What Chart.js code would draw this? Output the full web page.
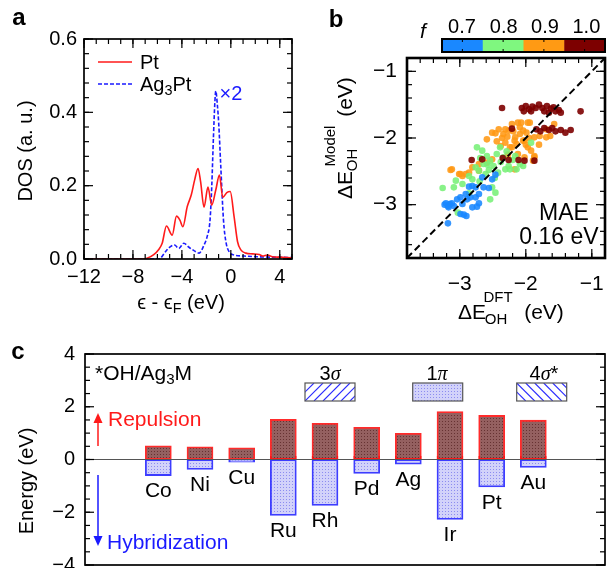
<!DOCTYPE html>
<html><head><meta charset="utf-8">
<script src="https://cdn.jsdelivr.net/npm/chart.js@4.4.1/dist/chart.umd.min.js"></script>
<style>
html,body{margin:0;padding:0;background:#fff;}
#wrap{position:relative;width:609px;height:568px;overflow:hidden;font-family:"Liberation Sans",Arial,sans-serif;color:#000;background:#fff;}
canvas{position:absolute;}
.t{position:absolute;white-space:nowrap;line-height:1;}
.t sub{font-size:72%;vertical-align:-0.28em;line-height:0;}
.t i.s{font-family:"Liberation Serif","DejaVu Serif",serif;}
</style></head><body><div id="wrap">
<canvas id="ca" width="300" height="330" style="left:0;top:0;width:300px;height:330px"></canvas>
<canvas id="cb" width="309" height="330" style="left:300px;top:0;width:309px;height:330px"></canvas>
<canvas id="cc" width="609" height="238" style="left:0;top:330px;width:609px;height:238px"></canvas>
</div>
<script>
// ---------------- Panel a data (DOS) ----------------
const ptEnergy = [-12,-7.2,-6.85,-6.3,-5.89,-5.61,-5.26,-4.79,-4.44,-4.16,-3.92,-3.56,-3.23,-2.96,-2.68,-2.47,-2.19,-1.87,-1.56,-1.23,-0.93,-0.66,-0.33,-0.05,0.27,0.55,0.82,1.23,1.78,2.33,2.6,3.0,3.4,4.0,5.0];
const ptDOS    = [0,0,0.002,0.012,0.026,0.043,0.09,0.065,0.117,0.106,0.088,0.143,0.175,0.215,0.247,0.211,0.141,0.196,0.147,0.188,0.229,0.168,0.181,0.184,0.115,0.047,0.025,0.016,0.014,0.012,0.008,0.011,0.006,0.005,0.003];
const agEnergy = [-12,-5.9,-5.75,-5.34,-4.93,-4.6,-4.25,-3.84,-3.42,-3.01,-2.6,-2.19,-1.92,-1.7,-1.56,-1.42,-1.3,-1.23,-1.1,-0.99,-0.82,-0.6,-0.38,-0.14,0.27,1.1,2.2,3.5,5.0];
const agDOS    = [0,0,0.002,0.02,0.034,0.038,0.029,0.043,0.032,0.023,0.016,0.038,0.063,0.106,0.197,0.333,0.43,0.458,0.42,0.37,0.252,0.106,0.043,0.02,0.011,0.008,0.006,0.005,0.004];
const aXTicks = [-12,-8,-4,0,4];
const aXTickLabels = ['\u221212','\u22128','\u22124','0','4'];
const aYTicks = [0,0.2,0.4,0.6];
const aYTickLabels = ['0.0','0.2','0.4','0.6'];

// ---------------- Panel b data (parity scatter, coloured by f) ----------------
const fLabels = ['0.7','0.8','0.9','1.0'];
const blueDFT  = [-3.21,-3.18,-3.15,-3.23,-3.17,-3.12,-3.09,-3.18,-3.04,-2.99,-2.96,-2.91,-2.86,-2.81,-2.76,-2.89,-2.84,-2.76,-2.71,-2.94,-2.90,-2.99,-2.81,-2.74,-2.71,-2.64,-2.56,-2.66,-2.46,-2.51];
const blueModel= [-2.98,-3.02,-2.99,-3.00,-3.04,-2.98,-3.02,-3.28,-2.92,-2.89,-2.99,-2.84,-2.73,-2.72,-2.74,-2.92,-2.89,-2.89,-2.84,-3.15,-3.17,-3.14,-3.04,-3.03,-2.98,-2.74,-2.75,-2.59,-2.55,-2.62];
const greenDFT  = [-3.26,-3.09,-3.06,-2.96,-3.03,-2.86,-2.76,-2.74,-2.66,-2.64,-2.59,-2.54,-2.49,-2.44,-2.39,-2.34,-2.31,-2.26,-2.16,-2.51,-2.46,-2.54,-2.71,-2.81,-2.61,-2.14,-1.92,-2.04,-2.09,-2.24,-2.86,-2.69,-2.56,-2.47,-2.38,-2.29,-2.20,-2.70,-2.58,-2.42];
const greenModel= [-2.75,-2.74,-2.64,-2.69,-3.12,-2.57,-2.44,-2.14,-2.19,-2.39,-2.27,-2.34,-2.42,-2.24,-2.14,-2.29,-2.47,-2.42,-2.27,-2.74,-2.82,-2.92,-2.49,-2.62,-2.54,-2.47,-2.07,-2.42,-2.39,-2.47,-2.83,-2.30,-2.48,-2.60,-2.36,-2.20,-2.33,-2.65,-2.40,-2.52];
const orangeDFT  = [-3.12,-3.01,-2.96,-2.91,-2.86,-2.81,-2.71,-2.59,-2.51,-2.59,-2.51,-2.41,-2.34,-2.26,-2.21,-2.12,-2.09,-2.16,-2.31,-2.24,-2.14,-2.04,-2.02,-2.07,-1.94,-1.57,-1.63,-1.69,-2.17,-2.04,-1.97,-1.92,-1.87,-1.89,-2.02,-2.12,-2.21,-2.09,-1.99,-1.87,-1.79,-2.46,-2.31,-1.97,-1.69,-1.87,-3.14,-2.99,-2.71,-2.17,-2.44,-2.36,-2.28,-2.19,-2.00,-1.95,-2.38,-2.27,-1.80];
const orangeModel= [-2.47,-2.54,-2.57,-2.54,-2.52,-2.44,-2.39,-2.37,-2.32,-2.02,-1.92,-1.87,-1.94,-1.89,-1.79,-1.77,-1.84,-1.99,-2.07,-2.14,-2.09,-1.89,-2.04,-1.77,-1.77,-1.79,-1.97,-1.87,-2.04,-2.04,-2.14,-2.19,-2.27,-2.34,-2.29,-2.24,-2.14,-1.94,-1.92,-1.99,-1.97,-1.93,-1.87,-1.77,-1.99,-2.29,-2.48,-2.54,-2.49,-2.47,-2.05,-2.00,-1.98,-1.90,-2.10,-2.00,-2.12,-2.25,-2.10];
const redDFT  = [-2.06,-2.00,-1.95,-1.90,-1.85,-1.80,-1.75,-1.72,-1.68,-1.62,-1.58,-1.55,-1.50,-1.47,-1.65,-1.92,-2.03,-2.36,-1.17,-1.84,-1.78,-1.72,-1.65,-1.60,-1.55,-1.47,-1.40,-1.32,-2.21,-2.82,-2.66,-2.26,-2.11,-2.02,-1.87,-2.35];
const redModel= [-1.55,-1.52,-1.57,-1.53,-1.55,-1.50,-1.55,-1.60,-1.52,-1.56,-1.54,-1.60,-1.58,-1.62,-1.62,-1.60,-1.60,-1.55,-1.60,-1.87,-1.90,-1.85,-1.88,-1.85,-1.90,-1.88,-1.92,-1.88,-1.86,-2.33,-2.32,-2.33,-2.33,-2.34,-2.34,-2.30];
const bTicks = [-3,-2,-1];
const bTickLabels = ['\u22123','\u22122','\u22121'];

// ---------------- Panel c data (energy decomposition) ----------------
const metals = ['Co','Ni','Cu','Ru','Rh','Pd','Ag','Ir','Pt','Au'];
const repulsion     = [0.52,0.48,0.44,1.52,1.37,1.22,0.99,1.82,1.67,1.49];
const hybridization = [-0.61,-0.38,-0.10,-2.12,-1.74,-0.53,-0.18,-2.27,-1.04,-0.30];
const repulsionSigma= [0,0,0,0.12,0.12,0.12,0.12,0.12,0.12,0.12];
const orbitalLabels = ['3<i class="s">\u03c3</i>','1<i class="s">\u03c0</i>','4<i class="s">\u03c3</i>*'];
const cTicks = [-4,-2,0,2,4];
const cTickLabels = ['\u22124','\u22122','0','2','4'];

// ---------------- helpers ----------------
const FONT = '"Liberation Sans", Arial, sans-serif';
Chart.defaults.font.family = FONT;
Chart.defaults.font.size = 20;
Chart.defaults.color = '#000';
const wrap = document.getElementById('wrap');
function txt(html, x, y, o = {}) {
  const d = document.createElement('div');
  d.className = 't'; d.innerHTML = html;
  d.style.left = x + 'px'; d.style.top = y + 'px';
  d.style.fontSize = (o.size || 20) + 'px';
  if (o.color) d.style.color = o.color;
  if (o.bold) d.style.fontWeight = 'bold';
  if (o.italic) d.style.fontStyle = 'italic';
  if (o.family) d.style.fontFamily = o.family;
  const ax = o.anchor === 'left' ? '0' : (o.anchor === 'right' ? '-100%' : '-50%');
  d.style.transform = `translate(${ax},-50%)` + (o.rot ? ` rotate(${o.rot}deg)` : '');
  wrap.appendChild(d);
}
function pts(xs, ys) { return xs.map((x, i) => ({x, y: ys[i]})); }
function range(a, b, s) { const r = []; for (let v = a; v <= b + 1e-9; v += s) r.push(+v.toFixed(6)); return r; }
function dotPattern(bg, dot) {
  const c = document.createElement('canvas'); c.width = 3; c.height = 3;
  const g = c.getContext('2d'); g.fillStyle = bg; g.fillRect(0, 0, 3, 3);
  g.fillStyle = dot; g.fillRect(1, 1, 1, 1);
  return g.createPattern(c, 'repeat');
}
function hatchPattern(color) {
  const c = document.createElement('canvas'); c.width = 4; c.height = 4;
  const g = c.getContext('2d'); g.strokeStyle = color; g.lineWidth = 1;
  g.beginPath(); g.moveTo(1.5, 0); g.lineTo(1.5, 4); g.stroke();
  return g.createPattern(c, 'repeat');
}
// frame + inward ticks on all sides
const frameTicks = {
  id: 'frameTicks',
  afterDatasetsDraw(chart, args, o) {
    const {ctx, chartArea: a, scales} = chart;
    ctx.save();
    ctx.strokeStyle = '#000';
    ctx.lineWidth = o.tickWidth || 1.2;
    const seg = (x1, y1, x2, y2) => { ctx.beginPath(); ctx.moveTo(x1, y1); ctx.lineTo(x2, y2); ctx.stroke(); };
    if (o.x) {
      const xs = scales.x;
      o.x.minor.forEach(v => { const p = xs.getPixelForValue(v); seg(p, a.bottom, p, a.bottom - o.minorLen); seg(p, a.top, p, a.top + o.minorLen); });
      o.x.major.forEach(v => { const p = xs.getPixelForValue(v); seg(p, a.bottom, p, a.bottom - o.majorLen); seg(p, a.top, p, a.top + o.majorLen); });
    }
    if (o.y) {
      const ys = scales.y;
      o.y.minor.forEach(v => { const p = ys.getPixelForValue(v); seg(a.left, p, a.left + o.minorLen, p); seg(a.right, p, a.right - o.minorLen, p); });
      o.y.major.forEach(v => { const p = ys.getPixelForValue(v); seg(a.left, p, a.left + o.majorLen, p); seg(a.right, p, a.right - o.majorLen, p); });
    }
    ctx.lineWidth = o.frameWidth || 1.5;
    ctx.strokeRect(a.left, a.top, a.right - a.left, a.bottom - a.top);
    ctx.restore();
  }
};
function axis(min, max, ticks, labels, pad, size, fit, extra = {}) {
  return Object.assign({
    type: 'linear', min, max,
    grid: {display: false, drawTicks: false}, border: {display: false},
    afterBuildTicks: s => { s.ticks = ticks.map(v => ({value: v})); },
    ticks: {padding: pad, autoSkip: false, maxRotation: 0, font: {size}, color: '#000',
            callback: (v, i) => labels[i]},
    afterFit: s => { fit(s); s.paddingLeft = 0; s.paddingRight = 0; s.paddingTop = 0; s.paddingBottom = 0; }
  }, extra);
}

// ---------------- Panel a ----------------
new Chart(document.getElementById('ca'), {
  type: 'line',
  data: {datasets: [
    {label: 'Pt', data: pts(ptEnergy, ptDOS), borderColor: '#ff1a1a', borderWidth: 1.6, pointRadius: 0, cubicInterpolationMode: 'monotone', fill: false},
    {label: 'Ag3Pt', data: pts(agEnergy, agDOS), borderColor: '#1a1aff', borderWidth: 1.6, borderDash: [4, 2], pointRadius: 0, cubicInterpolationMode: 'monotone', fill: false}
  ]},
  options: {
    responsive: false, animation: false, devicePixelRatio: 1,
    layout: {padding: {top: 39, right: 8, left: 0, bottom: 0}},
    plugins: {legend: {display: false}, tooltip: {enabled: false},
      frameTicks: {x: {major: aXTicks, minor: range(-12, 5, 1)}, y: {major: aYTicks, minor: range(0, 0.6, 0.04)}, majorLen: 9, minorLen: 5, frameWidth: 1.7}},
    scales: {
      x: axis(-12, 5, aXTicks, aXTickLabels, 6, 20, s => { s.height = 71; }),
      y: axis(0, 0.6, aYTicks, aYTickLabels, 7, 20, s => { s.width = 84; })
    }
  },
  plugins: [frameTicks, {
    id: 'legendLines',
    afterDatasetsDraw(chart) {
      const ctx = chart.ctx; ctx.save();
      ctx.lineWidth = 1.6;
      ctx.strokeStyle = '#ff1a1a'; ctx.beginPath(); ctx.moveTo(98, 62); ctx.lineTo(132, 62); ctx.stroke();
      ctx.strokeStyle = '#1a1aff'; ctx.setLineDash([4, 2]); ctx.beginPath(); ctx.moveTo(98, 84); ctx.lineTo(132, 84); ctx.stroke();
      ctx.restore();
    }
  }]
});
txt('a', 19, 17, {size: 24, bold: true});
txt('Pt', 140, 62, {anchor: 'left'});
txt('Ag<sub>3</sub>Pt', 140, 84, {anchor: 'left'});
txt('\u00d72', 231, 93, {color: '#1a1aff'});
txt('DOS (a. u.)', 25, 151, {rot: -90});
txt('\u03f5 - \u03f5<sub>F</sub> (eV)', 181, 302);

// ---------------- Panel b ----------------
const fColors = ['rgba(25,135,255,0.88)', 'rgba(120,240,120,0.88)', 'rgba(255,152,20,0.88)', 'rgba(125,0,0,0.9)'];
const fSolid = ['#1a88ff', '#7ff77f', '#ff9a14', '#7d0000'];
const bMin = -3.8, bMax = -0.8;
new Chart(document.getElementById('cb'), {
  type: 'scatter',
  data: {datasets: [
    {data: [{x: bMin, y: bMin}, {x: bMax, y: bMax}], type: 'line', borderColor: '#000', borderWidth: 2, borderDash: [7, 4], pointRadius: 0, order: 0},
    {data: pts(redDFT, redModel), backgroundColor: fColors[3], pointRadius: 3.3, borderWidth: 0, order: 1},
    {data: pts(blueDFT, blueModel), backgroundColor: fColors[0], pointRadius: 3.3, borderWidth: 0, order: 2},
    {data: pts(greenDFT, greenModel), backgroundColor: fColors[1], pointRadius: 3.3, borderWidth: 0, order: 3},
    {data: pts(orangeDFT, orangeModel), backgroundColor: fColors[2], pointRadius: 3.3, borderWidth: 0, order: 4}
  ]},
  options: {
    responsive: false, animation: false, devicePixelRatio: 1,
    layout: {padding: {top: 58, right: 2, left: 0, bottom: 0}},
    plugins: {legend: {display: false}, tooltip: {enabled: false},
      frameTicks: {x: {major: bTicks, minor: range(bMin, bMax, 0.2)}, y: {major: bTicks, minor: range(bMin, bMax, 0.2)}, majorLen: 9, minorLen: 5, frameWidth: 2.6}},
    scales: {
      x: axis(bMin, bMax, bTicks, bTickLabels, 14, 21, s => { s.height = 72; }),
      y: axis(bMin, bMax, bTicks, bTickLabels, 10, 21, s => { s.width = 107; })
    }
  },
  plugins: [frameTicks, {
    id: 'colorbar',
    afterDatasetsDraw(chart) {
      const {ctx, chartArea: a} = chart; ctx.save();
      const l = a.left + 35, r = a.right, t = 39, b = 52, w = (r - l) / fSolid.length;
      fSolid.forEach((c, i) => { ctx.fillStyle = c; ctx.fillRect(l + i * w, t, w + 0.5, b - t); });
      ctx.strokeStyle = '#000'; ctx.lineWidth = 1;
      fSolid.forEach((c, i) => { const x = l + (i + 0.5) * w; ctx.beginPath(); ctx.moveTo(x, t); ctx.lineTo(x, t + 3); ctx.moveTo(x, b); ctx.lineTo(x, b - 3); ctx.stroke(); });
      ctx.lineWidth = 2; ctx.strokeRect(l, t, r - l, b - t);
      ctx.restore();
    }
  }]
});
txt('b', 336, 19, {size: 24, bold: true});
txt('f', 423, 30, {italic: true, size: 21});
[462, 503.7, 545, 586.4].forEach((x, i) => txt(fLabels[i], x, 26));
txt('MAE', 564, 212, {size: 23});
txt('0.16 eV', 559, 236, {size: 23});
// x title
txt('\u0394E', 472, 311, {size: 21});
txt('DFT', 498, 296, {size: 15});
txt('OH', 496, 318, {size: 15});
txt('(eV)', 544, 311, {size: 21});
// y title (rotated)
txt('\u0394E', 344, 185, {size: 21, rot: -90});
txt('Model', 329, 146, {size: 15, rot: -90});
txt('OH', 351, 160, {size: 15, rot: -90});
txt('(eV)', 344, 97, {size: 21, rot: -90});

// ---------------- Panel c ----------------
const repFill = dotPattern('#946060', '#663232');
const hybFill = dotPattern('#d2d2fa', '#8c8cf0');
const sigFill = hatchPattern('rgba(255,0,0,0.8)');
const cx = metals.map((m, i) => i + 1);
new Chart(document.getElementById('cc'), {
  type: 'bar',
  data: {datasets: [
    {data: pts(cx, repulsion), backgroundColor: repFill, borderColor: 'rgba(255,20,20,0.9)', borderWidth: 1.8, barThickness: 26, grouped: false, borderSkipped: false},
    {data: pts(cx, hybridization), backgroundColor: hybFill, borderColor: 'rgba(40,40,255,0.9)', borderWidth: 1.8, barThickness: 26, grouped: false, borderSkipped: false},
    {data: pts(cx, repulsionSigma), backgroundColor: sigFill, borderColor: 'rgba(255,20,20,0.9)', borderWidth: 1, barThickness: 26, grouped: false, borderSkipped: false}
  ]},
  options: {
    responsive: false, animation: false, devicePixelRatio: 1,
    layout: {padding: {top: 24, right: 4, left: 0, bottom: 3}},
    plugins: {legend: {display: false}, tooltip: {enabled: false},
      frameTicks: {y: {major: cTicks, minor: range(-4, 4, 0.5)}, majorLen: 9, minorLen: 5, frameWidth: 1.7}},
    scales: {
      x: {type: 'linear', min: 0.28, max: 10.68, display: false},
      y: axis(-4, 4, cTicks, cTickLabels, 10, 20, s => { s.width = 85; })
    }
  },
  plugins: [{
    id: 'zeroAndLabels',
    afterDatasetsDraw(chart) {
      const {ctx, chartArea: a, scales: {x, y}} = chart; ctx.save();
      const y0 = y.getPixelForValue(0);
      ctx.strokeStyle = '#555'; ctx.lineWidth = 1.2;
      ctx.beginPath(); ctx.moveTo(a.left, y0); ctx.lineTo(a.right, y0); ctx.stroke();
      ctx.fillStyle = '#000'; ctx.font = '21px ' + FONT; ctx.textAlign = 'center'; ctx.textBaseline = 'middle';
      metals.forEach((m, i) => ctx.fillText(m, x.getPixelForValue(cx[i]), y.getPixelForValue(hybridization[i]) + 16));
      // arrows
      const arrow = (xp, y1, y2, col) => {
        const dir = Math.sign(y2 - y1);
        ctx.strokeStyle = col; ctx.fillStyle = col; ctx.lineWidth = 1.5;
        ctx.beginPath(); ctx.moveTo(xp, y1); ctx.lineTo(xp, y2 - dir * 8); ctx.stroke();
        ctx.beginPath(); ctx.moveTo(xp, y2); ctx.lineTo(xp - 4.5, y2 - dir * 10); ctx.lineTo(xp + 4.5, y2 - dir * 10); ctx.closePath(); ctx.fill();
      };
      arrow(98, 116, 83, '#ff1a1a');
      arrow(98, 145, 216, '#1a1aff');
      // orbital legend boxes
      const boxes = [305, 412.7, 516.7], bt = 53, bh = 18, bw = 50;
      boxes.forEach((bx, k) => {
        ctx.save();
        ctx.beginPath(); ctx.rect(bx, bt, bw, bh); ctx.clip();
        if (k === 1) { ctx.fillStyle = hybFill; ctx.fillRect(bx, bt, bw, bh); }
        else {
          ctx.fillStyle = '#fff'; ctx.fillRect(bx, bt, bw, bh);
          ctx.strokeStyle = '#2a2aff'; ctx.lineWidth = 1.1;
          for (let s = -bh; s < bw + bh; s += 9) {
            ctx.beginPath();
            if (k === 0) { ctx.moveTo(bx + s, bt + bh); ctx.lineTo(bx + s + bh, bt); }
            else { ctx.moveTo(bx + s, bt); ctx.lineTo(bx + s + bh, bt + bh); }
            ctx.stroke();
          }
        }
        ctx.restore();
        ctx.strokeStyle = '#555'; ctx.lineWidth = 1.2; ctx.strokeRect(bx, bt, bw, bh);
      });
      ctx.restore();
    }
  }, frameTicks]
});
txt('c', 18, 351, {size: 24, bold: true});
txt('*OH/Ag<sub>3</sub>M', 95, 372, {anchor: 'left', size: 21});
txt('Repulsion', 108, 418, {anchor: 'left', size: 21, color: '#ff1a1a'});
txt('Hybridization', 107, 541, {anchor: 'left', size: 21, color: '#1a1aff'});
txt('Energy (eV)', 26, 481, {rot: -90, size: 20});
[330, 437, 544].forEach((x, i) => txt(orbitalLabels[i], x, 373, {size: 20}));
</script>
</body></html>
